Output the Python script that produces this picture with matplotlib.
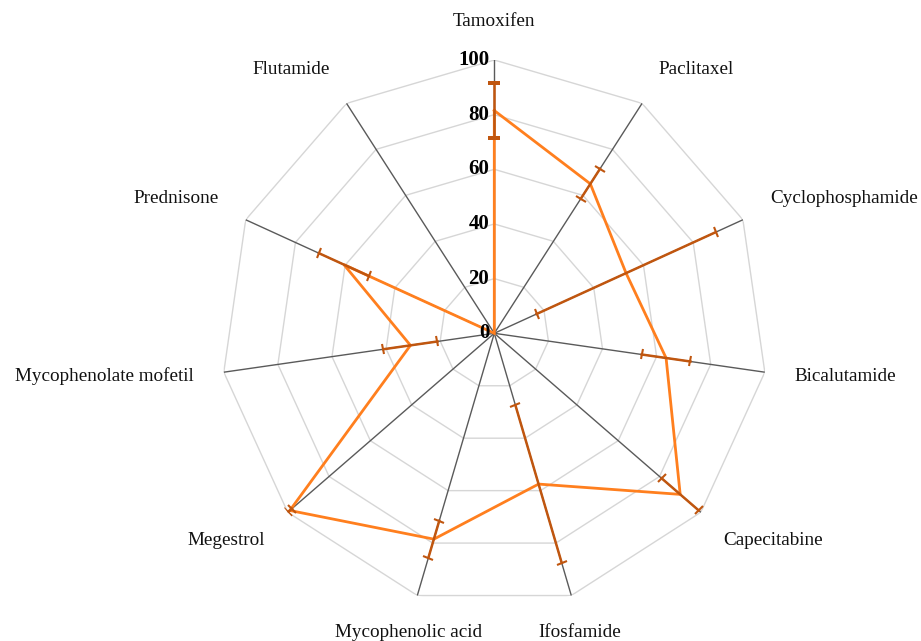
import numpy as np
import matplotlib
matplotlib.use("Agg")
import matplotlib.pyplot as plt
from matplotlib.markers import MarkerStyle
from matplotlib.transforms import Affine2D, offset_copy

# Drug categories, mean scores and error half-widths
categories = ["Tamoxifen", "Paclitaxel", "Cyclophosphamide", "Bicalutamide",
              "Capecitabine", "Ifosfamide", "Mycophenolic acid", "Megestrol",
              "Mycophenolate mofetil", "Prednisone", "Flutamide"]
values = [81.5, 65, 53, 63.5, 90, 57.5, 78.5, 99, 31, 60.5, 0]
errors = [10, 6.5, 36, 9, 9, 30, 7, 1, 10, 10, 0]
ring_levels = [20, 40, 60, 80, 100]
tick_labels = ["0", "20", "40", "60", "80", "100"]
tick_values = [0, 20, 40, 60, 80, 100]

line_color = "#FF7F1E"
err_color = "#C0560F"
spoke_color = "#5A5A5A"
ring_color = "#D6D6D6"
serif = ["Liberation Serif", "DejaVu Serif"]

W, H, dpi = 921, 641, 100
fig = plt.figure(figsize=(W / dpi, H / dpi), dpi=dpi)
cx, cy, R = 494.3, 333.3, 273.3
ax = fig.add_axes([(cx - R) / W, (H - cy - R) / H, 2 * R / W, 2 * R / H],
                  projection="polar")
ax.set_theta_zero_location("N")
ax.set_theta_direction(-1)
ax.set_ylim(0, 100)
ax.grid(False)
ax.spines["polar"].set_visible(False)
ax.set_xticks([])
ax.set_yticks([])
ax.patch.set_alpha(0)

n = len(categories)
theta = np.arange(n) * 2 * np.pi / n
theta_closed = np.append(theta, theta[0])

# polygonal rings
for lvl in ring_levels:
    ax.plot(theta_closed, [lvl] * (n + 1), color=ring_color, lw=1.0, zorder=1)

# spokes
for t in theta:
    ax.plot([t, t], [0, 100], color=spoke_color, lw=1.0, zorder=2)

# mean line
vals_closed = values + [values[0]]
ax.plot(theta_closed, vals_closed, color=line_color, lw=2.0, zorder=3,
        solid_joinstyle="miter")

# error bars with caps perpendicular to each spoke
for t, v, e in zip(theta, values, errors):
    if e <= 0:
        continue
    ax.plot([t, t], [v - e, v + e], color=err_color, lw=1.8, zorder=4)
    phi = 90 - np.degrees(t)
    mk = MarkerStyle("|", transform=Affine2D().rotate_deg(phi))
    ax.plot([t, t], [v - e, v + e], linestyle="none", marker=mk,
            markersize=8, markeredgewidth=1.5, color=err_color, zorder=4)

# radial tick labels along the first spoke
tick_tr = offset_copy(ax.transData, fig=fig, x=-5, y=0, units="dots")
for val, lab in zip(tick_values, tick_labels):
    ax.text(0, val, lab, transform=tick_tr, ha="right", va="center",
            fontsize=15, fontweight="bold", family=serif, color="black",
            zorder=5)

# category labels outside the outer ring
for t, lab in zip(theta, categories):
    c, s = np.sin(t), np.cos(t)
    ha = "left" if c > 0.3 else ("right" if c < -0.3 else "center")
    va = "bottom" if s > 0.3 else ("top" if s < -0.3 else "center")
    ax.text(t, 111, lab, ha=ha, va=va, fontsize=13.8, family=serif,
            color="#111111", clip_on=False)

fig.savefig("out.png", dpi=dpi, facecolor="white")
